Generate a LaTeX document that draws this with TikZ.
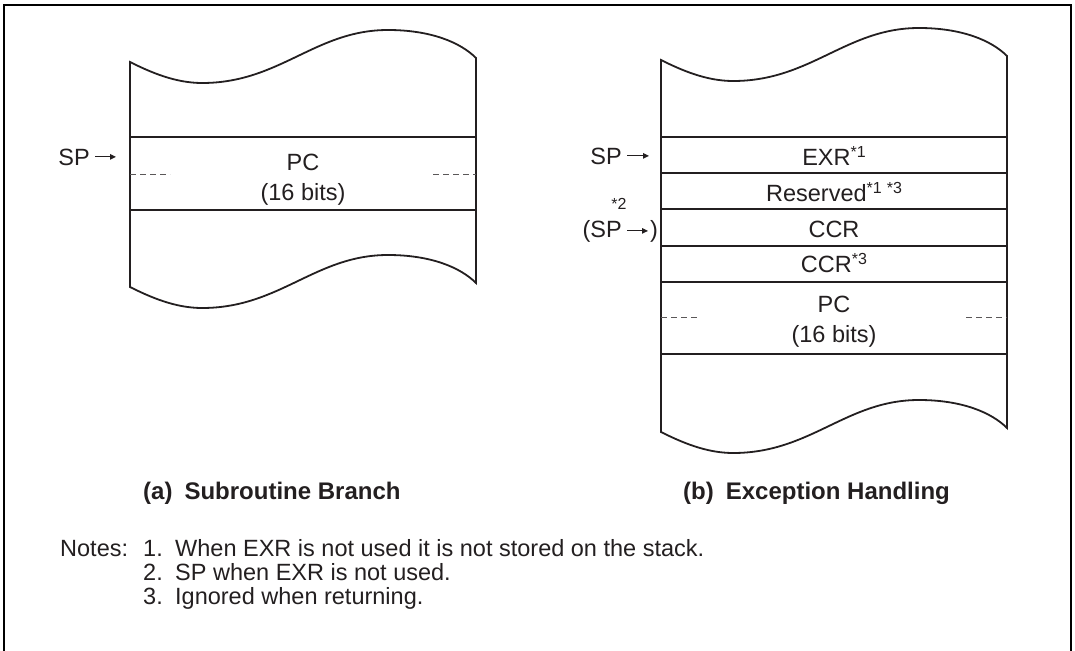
\documentclass[tikz,border=0pt]{standalone}
\usepackage{fontspec}
\setmainfont{Liberation Sans}
\usetikzlibrary{arrows.meta}
\definecolor{ink}{HTML}{231F20}
% box with wavy top and bottom: #1,#2 = top-left corner, #3 = height
\newcommand\wavybox[3]{%
  \begin{scope}[shift={(#1,#2)}]
    \draw[boxline] (0,#3) -- (0,0)
      .. controls (20,10) and (45,21) .. (72,21)
      .. controls (150,21) and (185,-32) .. (258,-32)
      .. controls (300,-32) and (330,-20) .. (346,-4)
      -- (346,#3-4)
      .. controls (330,#3-20) and (300,#3-32) .. (258,#3-32)
      .. controls (185,#3-32) and (150,#3+21) .. (72,#3+21)
      .. controls (45,#3+21) and (20,#3+10) .. (0,#3)
      -- cycle;
  \end{scope}}
\newcommand\supmark[1]{\raisebox{8pt}{\fontsize{16}{16}\selectfont #1}}
\newcommand\notenum[1]{\makebox[32pt][l]{#1}}
\begin{document}
\begin{tikzpicture}[x=1pt,y=-1pt,
  boxline/.style={line width=1.8pt, draw=ink, line join=miter},
  sepline/.style={line width=1.7pt, draw=ink},
  halfline/.style={line width=0.8pt, draw=ink!75, dash pattern=on 6pt off 4pt},
  lbl/.style={font=\fontsize{23.5}{27}\selectfont, text=ink, inner sep=0pt, anchor=base},
  small/.style={font=\fontsize{16}{18}\selectfont, text=ink, inner sep=0pt, anchor=base},
  capt/.style={font=\bfseries\fontsize{24}{28}\selectfont, text=ink, inner sep=0pt, anchor=base west},
  spar/.style={-{Triangle[length=6pt,width=5.5pt]}, line width=1.1pt, draw=ink}
]
\useasboundingbox (0,0) rectangle (1075,650);
% outer frame
\draw[line width=2.2pt, draw=black, line join=miter] (4,660) -- (4,5) -- (1071,5) -- (1071,660);

% ---------- (a) subroutine branch ----------
\wavybox{130}{62}{225}
\foreach \y in {137,210} \draw[sepline] (130,\y) -- (476,\y);
\draw[halfline] (130,174) -- (170,174);
\draw[halfline] (433,174) -- (476,174);
\node[lbl] (pcA) at (303,170) {PC};
\node[lbl] (bitsA) at (303,200) {(16 bits)};
\node[lbl, anchor=base east] (spA) at (90,165) {SP};
\coordinate (spAtip) at (116,157);
\draw[spar] ([xshift=5pt]spA.east) -- (spAtip |- spA.east);

% ---------- (b) exception handling ----------
\wavybox{661}{60}{372}
\foreach \y in {137,173,209,246,282,354} \draw[sepline] (661,\y) -- (1007,\y);
\draw[halfline] (661,317) -- (700,317);
\draw[halfline] (966,317) -- (1007,317);
\node[lbl] (exr) at (834,165) {EXR\supmark{*1}};
\node[lbl] (res) at (834,201) {Reserved\supmark{*1\hspace{5pt}*3}};
\node[lbl] (ccr) at (834,237) {CCR};
\node[lbl] (ccrb) at (834,272) {CCR\supmark{*3}};
\node[lbl] (pcB) at (834,312) {PC};
\node[lbl] (bitsB) at (834,342) {(16 bits)};

\node[lbl, anchor=base east] (spB) at (622,164) {SP};
\coordinate (spBtip) at (649,156);
\draw[spar] ([xshift=5pt]spB.east) -- (spBtip |- spB.east);

\node[small] (star2) at (619,209) {*2};
\node[lbl, anchor=base east] (spC) at (622,237) {(SP};
\coordinate (spCtip) at (648,228);
\draw[spar] ([xshift=5pt]spC.east) -- (spCtip |- spC.east);
\node[lbl, anchor=base west] (spCclose) at (650,237) {)};

% ---------- captions ----------
\node[capt] (capA) at (143,499) {(a)\hspace{12pt}Subroutine Branch};
\node[capt] (capB) at (683,499) {(b)\hspace{12pt}Exception Handling};

% ---------- notes ----------
\node[lbl, anchor=base west] (notes) at (60,556) {Notes:};
\node[lbl, anchor=base west] (n1) at (143,556) {\notenum{1.}When EXR is not used it is not stored on the stack.};
\node[lbl, anchor=base west] (n2) at (143,580) {\notenum{2.}SP when EXR is not used.};
\node[lbl, anchor=base west] (n3) at (143,604) {\notenum{3.}Ignored when returning.};
\end{tikzpicture}
\end{document}
